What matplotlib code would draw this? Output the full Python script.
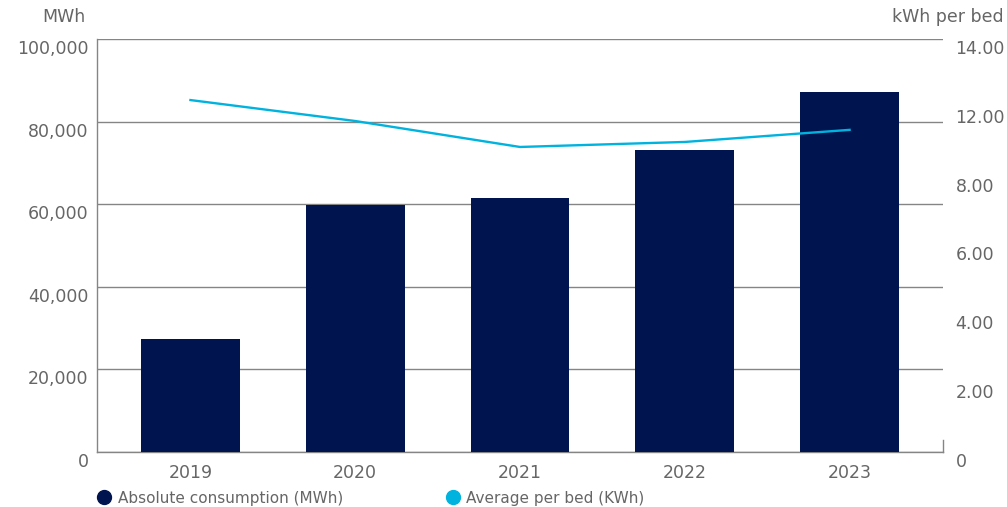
import matplotlib
matplotlib.use("Agg")
import matplotlib.pyplot as plt
from matplotlib.lines import Line2D
from matplotlib.transforms import ScaledTranslation
import numpy as np

years = ["2019", "2020", "2021", "2022", "2023"]
consumption_mwh = [27400, 59800, 61500, 73100, 87200]
avg_per_bed = [11.93, 11.22, 10.34, 10.51, 10.92]
left_ticks = [0, 20000, 40000, 60000, 80000, 100000]
left_labels = ["0", "20,000", "40,000", "60,000", "80,000", "100,000"]
right_labels = ["0", "2.00", "4.00", "6.00", "8.00", "12.00", "14.00"]

NAVY = "#001550"
CYAN = "#00B3DF"
GRID = "#858585"
TEXT = "#666666"

plt.rcParams['font.family'] = ['DejaVu Sans']

fig = plt.figure(figsize=(10.07, 5.07), dpi=100)
ax = fig.add_axes([97/1007, 1-452/507, 846/1007, 413/507])
x = np.arange(len(years))
ax.bar(x, consumption_mwh, width=0.6, color=NAVY, zorder=3)
ax.set_xlim(-0.567, 4.567)
ax.set_ylim(0, 100000)
ax.set_yticks(left_ticks)
ax.set_yticklabels(left_labels)
ax.grid(axis='y', color=GRID, linewidth=1.0, zorder=0)
ax.set_axisbelow(True)
for s in ['top', 'right']:
    ax.spines[s].set_visible(False)
for s in ['left', 'bottom']:
    ax.spines[s].set_color(GRID)
    ax.spines[s].set_linewidth(1.0)
ax.set_xticks(x)
ax.set_xticklabels(years)
FS = 12.5
ax.tick_params(axis='x', length=0, pad=9, labelsize=FS, labelcolor=TEXT)
ax.tick_params(axis='y', length=0, pad=6, labelsize=FS, labelcolor=TEXT)
off = ScaledTranslation(0, -0.08, fig.dpi_scale_trans)
for lab in ax.get_yticklabels():
    lab.set_transform(lab.get_transform() + off)

ax2 = ax.twinx()
ax2.plot(x, avg_per_bed, color=CYAN, linewidth=1.7, zorder=4)
ax2.set_ylim(0, 14)
ax2.set_yticks(np.linspace(0, 14, 7))
ax2.set_yticklabels(right_labels)
ax2.tick_params(axis='y', length=0, pad=9, labelsize=FS, labelcolor=TEXT)
for lab in ax2.get_yticklabels():
    lab.set_transform(lab.get_transform() + off)
for s in ax2.spines.values():
    s.set_visible(False)
# short right tick at bottom
ax.plot([1, 1], [0, 12/413], transform=ax.transAxes, color=GRID, linewidth=1.0, clip_on=False)

fig.text(86/1007, 1-17/507, "MWh", ha='right', va='center', fontsize=FS, color=TEXT)
fig.text(1004/1007, 1-17/507, "kWh per bed", ha='right', va='center', fontsize=FS, color=TEXT)

handles = [Line2D([], [], marker='o', linestyle='none', markersize=10, color=NAVY),
           Line2D([], [], marker='o', linestyle='none', markersize=10, color=CYAN)]
leg = fig.legend(handles, ["Absolute consumption (MWh)", "Average per bed (KWh)"],
                 loc='center left', bbox_to_anchor=(93/1007, 1-498/507), ncol=2,
                 frameon=False, fontsize=11, handletextpad=0.15, columnspacing=6.4,
                 handlelength=1.5, borderpad=0, borderaxespad=0)
for t in leg.get_texts():
    t.set_color(TEXT)

fig.savefig("out.png", dpi=100)
